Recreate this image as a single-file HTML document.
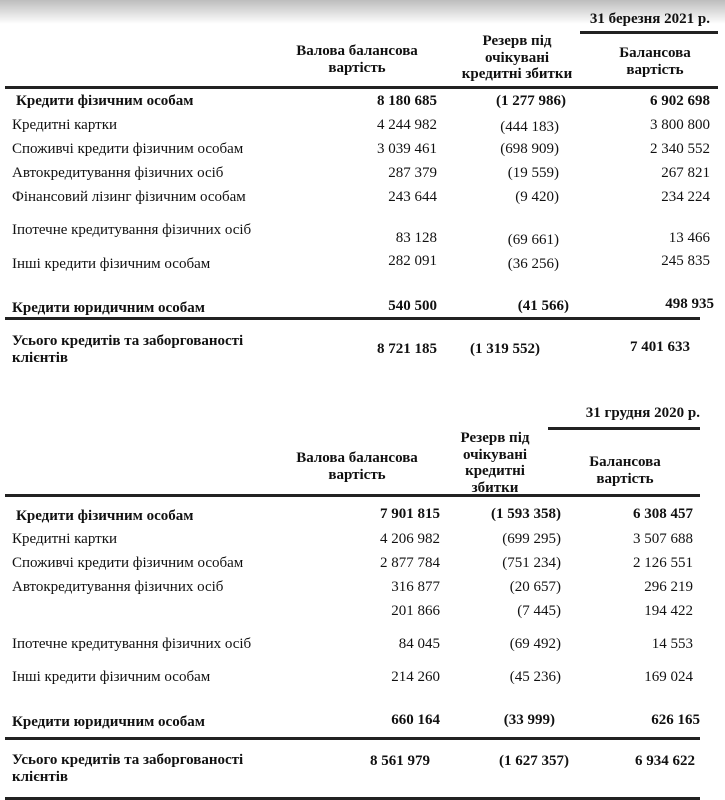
<!DOCTYPE html>
<html><head><meta charset="utf-8">
<style>
html,body{margin:0;padding:0}
body{width:725px;height:800px;position:relative;overflow:hidden;background:#fff;font-family:"Liberation Serif","DejaVu Serif",serif;color:#111;font-size:15px}
.shade{position:absolute;left:0;top:0;width:725px;height:24px;background:linear-gradient(#bdbdbd,#fff)}
.t{position:absolute;white-space:nowrap;line-height:16px}
.r{text-align:right}
.c{text-align:center}
.b{font-weight:bold;font-family:"Liberation Sans Narrow","Liberation Serif",serif;font-size:15px}
.h{font-weight:bold;font-family:"Liberation Sans Narrow","Liberation Serif",serif;font-size:15px;line-height:16.5px}
.ln{position:absolute;height:2.5px;background:#222}
</style></head><body>
<div class="shade"></div>

<!-- Section 1 -->
<div class="t h r" style="right:15px;top:11px">31 березня 2021 р.</div>
<div class="ln" style="left:580px;width:138px;top:31px"></div>
<div class="t h c" style="left:277px;width:160px;top:43px">Валова балансова<br>вартість</div>
<div class="t h c" style="left:442px;width:150px;top:33px">Резерв під<br>очікувані<br>кредитні збитки</div>
<div class="t h c" style="left:585px;width:140px;top:45px">Балансова<br>вартість</div>
<div class="ln" style="left:5px;width:713px;top:86px"></div>

<div class="t b" style="left:16px;top:93px">Кредити фізичним особам</div>
<div class="t b r" style="right:288px;top:93px">8 180 685</div>
<div class="t b r" style="right:159px;top:93px">(1 277 986)</div>
<div class="t b r" style="right:15px;top:93px">6 902 698</div>

<div class="t" style="left:12px;top:117px">Кредитні картки</div>
<div class="t r" style="right:288px;top:117px">4 244 982</div>
<div class="t r" style="right:166px;top:119px">(444 183)</div>
<div class="t r" style="right:15px;top:117px">3 800 800</div>

<div class="t" style="left:12px;top:141px">Споживчі кредити фізичним особам</div>
<div class="t r" style="right:288px;top:141px">3 039 461</div>
<div class="t r" style="right:166px;top:141px">(698 909)</div>
<div class="t r" style="right:15px;top:141px">2 340 552</div>

<div class="t" style="left:12px;top:165px">Автокредитування фізичних осіб</div>
<div class="t r" style="right:288px;top:165px">287 379</div>
<div class="t r" style="right:166px;top:165px">(19 559)</div>
<div class="t r" style="right:15px;top:165px">267 821</div>

<div class="t" style="left:12px;top:189px">Фінансовий лізинг фізичним особам</div>
<div class="t r" style="right:288px;top:189px">243 644</div>
<div class="t r" style="right:166px;top:189px">(9 420)</div>
<div class="t r" style="right:15px;top:189px">234 224</div>

<div class="t" style="left:12px;top:222px">Іпотечне кредитування фізичних осіб</div>
<div class="t r" style="right:288px;top:230px">83 128</div>
<div class="t r" style="right:166px;top:232px">(69 661)</div>
<div class="t r" style="right:15px;top:230px">13 466</div>

<div class="t" style="left:12px;top:256px">Інші кредити фізичним особам</div>
<div class="t r" style="right:288px;top:253px">282 091</div>
<div class="t r" style="right:166px;top:256px">(36 256)</div>
<div class="t r" style="right:15px;top:253px">245 835</div>

<div class="t b" style="left:12px;top:300px">Кредити юридичним особам</div>
<div class="t b r" style="right:288px;top:298px">540 500</div>
<div class="t b r" style="right:156px;top:298px">(41 566)</div>
<div class="t b r" style="right:11px;top:296px">498 935</div>
<div class="ln" style="left:5px;width:695px;top:317px"></div>

<div class="t b" style="left:12px;top:333px;line-height:17px">Усього кредитів та заборгованості<br>клієнтів</div>
<div class="t b r" style="right:288px;top:341px">8 721 185</div>
<div class="t b r" style="right:185px;top:341px">(1 319 552)</div>
<div class="t b r" style="right:35px;top:339px">7 401 633</div>

<!-- Section 2 -->
<div class="t h r" style="right:25px;top:405px">31 грудня 2020 р.</div>
<div class="ln" style="left:548px;width:152px;top:427px"></div>
<div class="t h c" style="left:277px;width:160px;top:450px">Валова балансова<br>вартість</div>
<div class="t h c" style="left:445px;width:100px;top:430px">Резерв під<br>очікувані<br>кредитні<br>збитки</div>
<div class="t h c" style="left:570px;width:110px;top:454px">Балансова<br>вартість</div>
<div class="ln" style="left:5px;width:695px;top:494px"></div>

<div class="t b" style="left:16px;top:508px">Кредити фізичним особам</div>
<div class="t b r" style="right:285px;top:506px">7 901 815</div>
<div class="t b r" style="right:164px;top:506px">(1 593 358)</div>
<div class="t b r" style="right:32px;top:506px">6 308 457</div>

<div class="t" style="left:12px;top:531px">Кредитні картки</div>
<div class="t r" style="right:285px;top:531px">4 206 982</div>
<div class="t r" style="right:164px;top:531px">(699 295)</div>
<div class="t r" style="right:32px;top:531px">3 507 688</div>

<div class="t" style="left:12px;top:555px">Споживчі кредити фізичним особам</div>
<div class="t r" style="right:285px;top:555px">2 877 784</div>
<div class="t r" style="right:164px;top:555px">(751 234)</div>
<div class="t r" style="right:32px;top:555px">2 126 551</div>

<div class="t" style="left:12px;top:579px">Автокредитування фізичних осіб</div>
<div class="t r" style="right:285px;top:579px">316 877</div>
<div class="t r" style="right:164px;top:579px">(20 657)</div>
<div class="t r" style="right:32px;top:579px">296 219</div>

<div class="t r" style="right:285px;top:603px">201 866</div>
<div class="t r" style="right:164px;top:603px">(7 445)</div>
<div class="t r" style="right:32px;top:603px">194 422</div>

<div class="t" style="left:12px;top:636px">Іпотечне кредитування фізичних осіб</div>
<div class="t r" style="right:285px;top:636px">84 045</div>
<div class="t r" style="right:164px;top:636px">(69 492)</div>
<div class="t r" style="right:32px;top:636px">14 553</div>

<div class="t" style="left:12px;top:669px">Інші кредити фізичним особам</div>
<div class="t r" style="right:285px;top:669px">214 260</div>
<div class="t r" style="right:164px;top:669px">(45 236)</div>
<div class="t r" style="right:32px;top:669px">169 024</div>

<div class="t b" style="left:12px;top:714px">Кредити юридичним особам</div>
<div class="t b r" style="right:285px;top:712px">660 164</div>
<div class="t b r" style="right:170px;top:712px">(33 999)</div>
<div class="t b r" style="right:25px;top:712px">626 165</div>
<div class="ln" style="left:5px;width:695px;top:737px"></div>

<div class="t b" style="left:12px;top:752px;line-height:17px">Усього кредитів та заборгованості<br>клієнтів</div>
<div class="t b r" style="right:295px;top:753px">8 561 979</div>
<div class="t b r" style="right:156px;top:753px">(1 627 357)</div>
<div class="t b r" style="right:30px;top:753px">6 934 622</div>
<div class="ln" style="left:5px;width:695px;top:797px"></div>
</body></html>
